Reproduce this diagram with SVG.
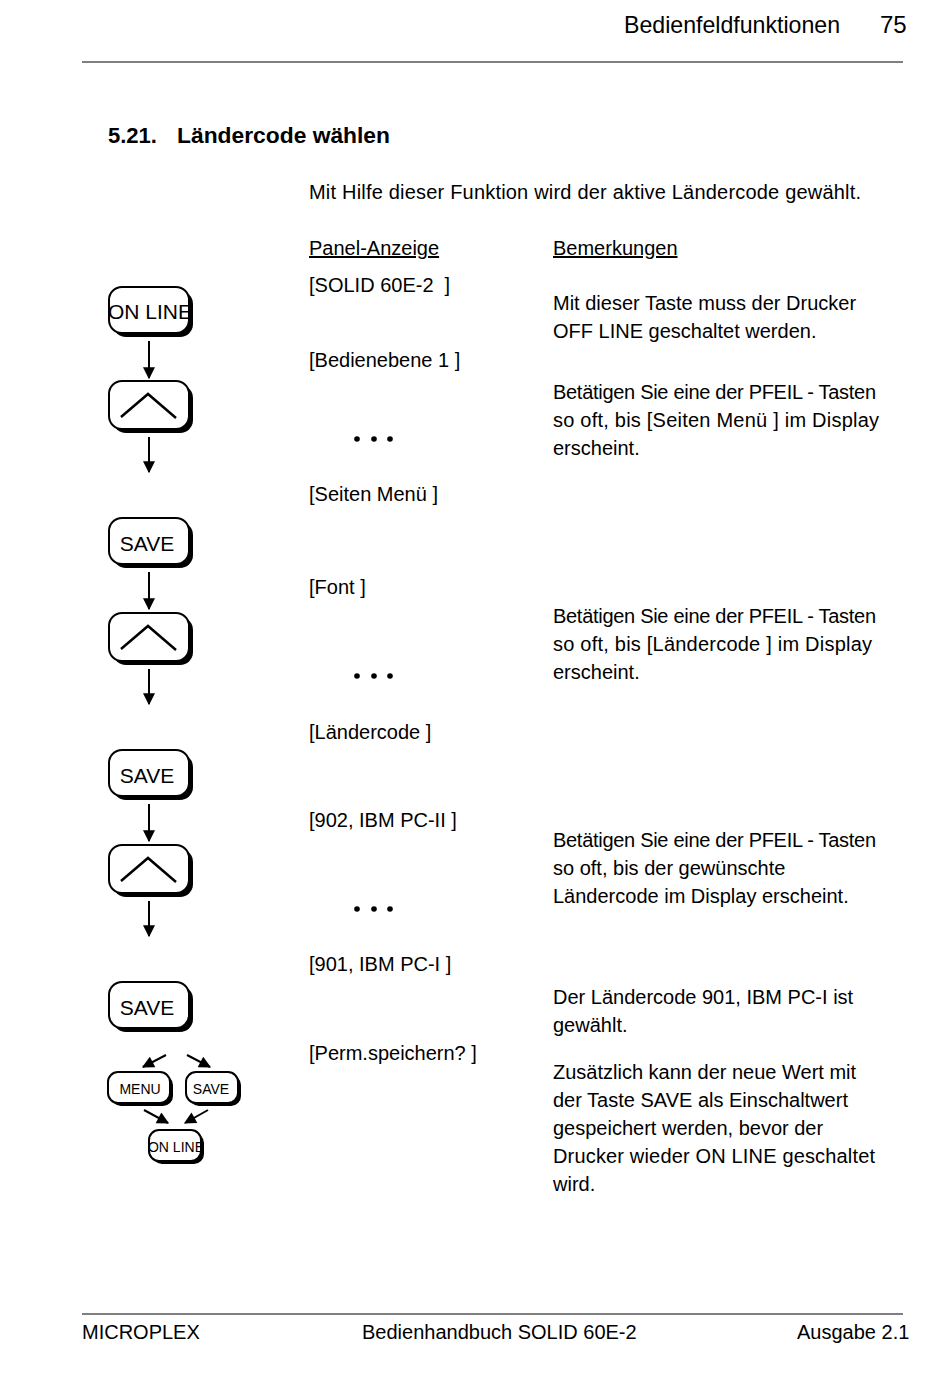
<svg xmlns="http://www.w3.org/2000/svg" width="950" height="1379" viewBox="0 0 950 1379">
<defs>
<style>
text{font-family:"Liberation Sans",Arial,sans-serif;fill:#000}
.t{font-size:20px}
.h{font-size:24px}
.b{font-size:22px;font-weight:bold}
.k{font-size:21px}
.ks{font-size:14px}
.rule{stroke:#000;stroke-width:1.2}
.sh{fill:#000}
.key{fill:#fff;stroke:#000;stroke-width:2}
.chev{fill:none;stroke:#000;stroke-width:2.5}
.con{stroke:#000;stroke-width:2;fill:none;marker-end:url(#ah)}
</style>
<marker id="ah" viewBox="0 0 10 10" refX="9" refY="5" markerWidth="7" markerHeight="6" orient="auto" markerUnits="strokeWidth">
<path d="M0,0 L10,5 L0,10 z" fill="#000"/>
</marker>
</defs>
<rect width="950" height="1379" fill="#fff"/>

<g id="header">
<text class="h" x="624" y="33" textLength="216" lengthAdjust="spacingAndGlyphs">Bedienfeldfunktionen</text>
<text class="h" x="880" y="33">75</text>
<line class="rule" x1="82" y1="62" x2="903" y2="62"/>
</g>

<text class="b" x="108" y="143">5.21.</text>
<text class="b" x="177" y="143" textLength="213" lengthAdjust="spacingAndGlyphs">Ländercode wählen</text>
<text class="t" x="309" y="199" textLength="552">Mit Hilfe dieser Funktion wird der aktive Ländercode gewählt.</text>

<g id="col-heads">
<text class="t" x="309" y="255" text-decoration="underline">Panel-Anzeige</text>
<text class="t" x="553" y="255" text-decoration="underline">Bemerkungen</text>
</g>

<g id="panel">
<text class="t" x="309" y="292" xml:space="preserve">[SOLID 60E-2  ]</text>
<text class="t" x="309" y="367">[Bedienebene 1 ]</text>
<g><circle cx="357" cy="439" r="2.8"/><circle cx="374" cy="439" r="2.8"/><circle cx="390" cy="439" r="2.8"/></g>
<text class="t" x="309" y="501">[Seiten Menü ]</text>
<text class="t" x="309" y="594">[Font ]</text>
<g><circle cx="357" cy="676" r="2.8"/><circle cx="374" cy="676" r="2.8"/><circle cx="390" cy="676" r="2.8"/></g>
<text class="t" x="309" y="739">[Ländercode ]</text>
<text class="t" x="309" y="827">[902, IBM PC-II ]</text>
<g><circle cx="357" cy="909" r="2.8"/><circle cx="374" cy="909" r="2.8"/><circle cx="390" cy="909" r="2.8"/></g>
<text class="t" x="309" y="971">[901, IBM PC-I ]</text>
<text class="t" x="309" y="1060">[Perm.speichern? ]</text>
</g>

<g id="remarks">
<text class="t" x="553" y="310">Mit dieser Taste muss der Drucker</text>
<text class="t" x="553" y="338">OFF LINE geschaltet werden.</text>
<text class="t" x="553" y="399" textLength="323">Betätigen Sie eine der PFEIL - Tasten</text>
<text class="t" x="553" y="427" textLength="326">so oft, bis [Seiten Menü ] im Display</text>
<text class="t" x="553" y="455">erscheint.</text>
<text class="t" x="553" y="623" textLength="323">Betätigen Sie eine der PFEIL - Tasten</text>
<text class="t" x="553" y="651" textLength="319">so oft, bis [Ländercode ] im Display</text>
<text class="t" x="553" y="679">erscheint.</text>
<text class="t" x="553" y="847" textLength="323">Betätigen Sie eine der PFEIL - Tasten</text>
<text class="t" x="553" y="875">so oft, bis der gewünschte</text>
<text class="t" x="553" y="903">Ländercode im Display erscheint.</text>
<text class="t" x="553" y="1004">Der Ländercode 901, IBM PC-I ist</text>
<text class="t" x="553" y="1032">gewählt.</text>
<text class="t" x="553" y="1079">Zusätzlich kann der neue Wert mit</text>
<text class="t" x="553" y="1107">der Taste SAVE als Einschaltwert</text>
<text class="t" x="553" y="1135">gespeichert werden, bevor der</text>
<text class="t" x="553" y="1163" textLength="322">Drucker wieder ON LINE geschaltet</text>
<text class="t" x="553" y="1191">wird.</text>
</g>

<g id="key-online1">
<rect class="sh" x="113" y="291" width="80" height="46" rx="13"/>
<rect class="key" x="109" y="287" width="80" height="46" rx="13"/>
<text class="k" x="150" y="319" text-anchor="middle">ON LINE</text>
</g>
<g id="key-up1">
<rect class="sh" x="113" y="385" width="80" height="48" rx="13"/>
<rect class="key" x="109" y="381" width="80" height="48" rx="13"/>
<polyline class="chev" points="121,417 148,394 176,418"/>
</g>
<g id="key-save1">
<rect class="sh" x="113" y="522" width="80" height="46" rx="13"/>
<rect class="key" x="109" y="518" width="80" height="46" rx="13"/>
<text class="k" x="147" y="551" text-anchor="middle">SAVE</text>
</g>
<g id="key-up2">
<rect class="sh" x="113" y="617" width="80" height="48" rx="13"/>
<rect class="key" x="109" y="613" width="80" height="48" rx="13"/>
<polyline class="chev" points="121,649 148,626 176,650"/>
</g>
<g id="key-save2">
<rect class="sh" x="113" y="754" width="80" height="46" rx="13"/>
<rect class="key" x="109" y="750" width="80" height="46" rx="13"/>
<text class="k" x="147" y="783" text-anchor="middle">SAVE</text>
</g>
<g id="key-up3">
<rect class="sh" x="113" y="849" width="80" height="48" rx="13"/>
<rect class="key" x="109" y="845" width="80" height="48" rx="13"/>
<polyline class="chev" points="121,881 148,858 176,882"/>
</g>
<g id="key-save3">
<rect class="sh" x="113" y="986" width="80" height="46" rx="13"/>
<rect class="key" x="109" y="982" width="80" height="46" rx="13"/>
<text class="k" x="147" y="1015" text-anchor="middle">SAVE</text>
</g>
<g id="key-menu">
<rect class="sh" x="111" y="1075" width="62" height="31" rx="10"/>
<rect class="key" x="108" y="1072" width="62" height="31" rx="10"/>
<text class="ks" x="140" y="1094" text-anchor="middle">MENU</text>
</g>
<g id="key-save4">
<rect class="sh" x="189" y="1075" width="52" height="31" rx="10"/>
<rect class="key" x="186" y="1072" width="52" height="31" rx="10"/>
<text class="ks" x="211" y="1094" text-anchor="middle">SAVE</text>
</g>
<g id="key-online2">
<rect class="sh" x="152" y="1133" width="52" height="31" rx="10"/>
<rect class="key" x="149" y="1130" width="52" height="31" rx="10"/>
<text class="ks" x="176" y="1152" text-anchor="middle">ON LINE</text>
</g>

<g id="connectors">
<line class="con" x1="149" y1="341" x2="149" y2="378"/>
<line class="con" x1="149" y1="437" x2="149" y2="472"/>
<line class="con" x1="149" y1="572" x2="149" y2="609"/>
<line class="con" x1="149" y1="669" x2="149" y2="704"/>
<line class="con" x1="149" y1="804" x2="149" y2="841"/>
<line class="con" x1="149" y1="901" x2="149" y2="936"/>
<line class="con" x1="166" y1="1055" x2="143" y2="1067"/>
<line class="con" x1="187" y1="1055" x2="210" y2="1067"/>
<line class="con" x1="144" y1="1110" x2="168" y2="1123"/>
<line class="con" x1="208" y1="1110" x2="185" y2="1123"/>
</g>

<g id="footer">
<line class="rule" x1="82" y1="1314" x2="903" y2="1314"/>
<text class="t" x="82" y="1339">MICROPLEX</text>
<text class="t" x="362" y="1339">Bedienhandbuch SOLID 60E-2</text>
<text class="t" x="797" y="1339">Ausgabe 2.1</text>
</g>
</svg>
